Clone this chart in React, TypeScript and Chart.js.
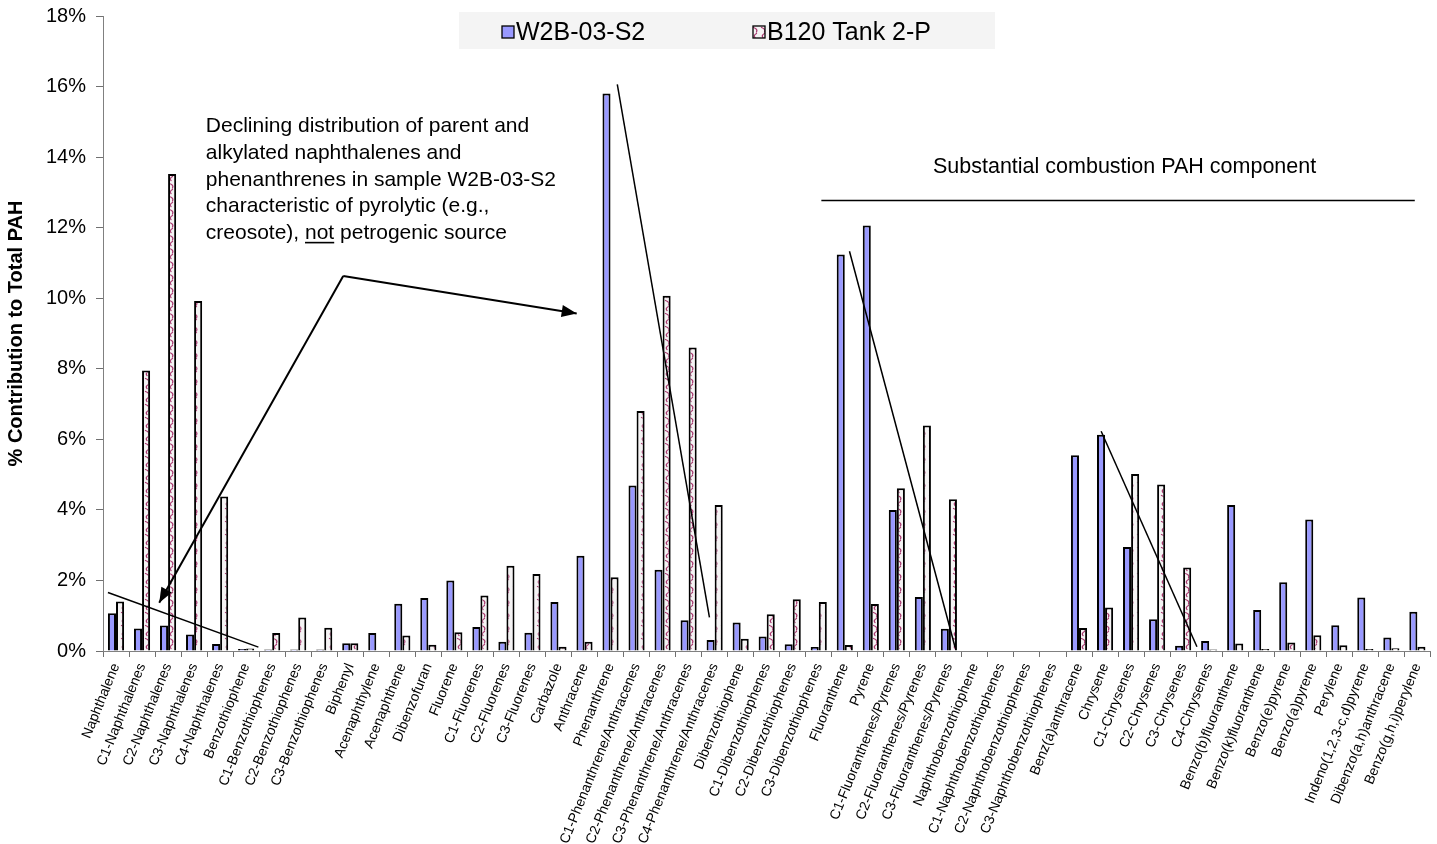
import React, { useEffect, useRef } from "react";
import { Chart, registerables } from "chart.js";

Chart.register(...registerables);

const categories: string[] = [
  "Naphthalene", "C1-Naphthalenes", "C2-Naphthalenes", "C3-Naphthalenes", "C4-Naphthalenes",
  "Benzothiophene", "C1-Benzothiophenes", "C2-Benzothiophenes", "C3-Benzothiophenes",
  "Biphenyl", "Acenaphthylene", "Acenaphthene", "Dibenzofuran", "Fluorene",
  "C1-Fluorenes", "C2-Fluorenes", "C3-Fluorenes", "Carbazole", "Anthracene", "Phenanthrene",
  "C1-Phenanthrene/Anthracenes", "C2-Phenanthrene/Anthracenes", "C3-Phenanthrene/Anthracenes",
  "C4-Phenanthrene/Anthracenes", "Dibenzothiophene", "C1-Dibenzothiophenes",
  "C2-Dibenzothiophenes", "C3-Dibenzothiophenes", "Fluoranthene", "Pyrene",
  "C1-Fluoranthenes/Pyrenes", "C2-Fluoranthenes/Pyrenes", "C3-Fluoranthenes/Pyrenes",
  "Naphthobenzothiophene", "C1-Naphthobenzothiophenes", "C2-Naphthobenzothiophenes",
  "C3-Naphthobenzothiophenes", "Benz(a)anthracene", "Chrysene", "C1-Chrysenes",
  "C2-Chrysenes", "C3-Chrysenes", "C4-Chrysenes", "Benzo(b)fluoranthene",
  "Benzo(k)fluoranthene", "Benzo(e)pyrene", "Benzo(a)pyrene", "Perylene",
  "Indeno(1,2,3-c,d)pyrene", "Dibenzo(a,h)anthracene", "Benzo(g,h,i)perylene",
];

const seriesNames: string[] = ["W2B-03-S2", "B120 Tank 2-P"];

const w2bValues: number[] = [
  1.07, 0.64, 0.72, 0.47, 0.2,
  0.06, 0.04, 0.04, 0.04,
  0.22, 0.51, 1.34, 1.5, 2.0,
  0.68, 0.26, 0.52, 1.39, 2.7, 15.8,
  4.69, 2.3, 0.87,
  0.31, 0.81, 0.41,
  0.19, 0.11, 11.24, 12.06,
  4.0, 1.53, 0.63,
  0, 0, 0,
  0, 5.55, 6.13, 2.95,
  0.9, 0.15, 0.28, 4.14,
  1.16, 1.95, 3.73, 0.73,
  1.52, 0.38, 1.11,
];

const b120Values: number[] = [
  1.4, 7.95, 13.52, 9.92, 4.38,
  0.07, 0.51, 0.95, 0.66,
  0.22, 0, 0.44, 0.18, 0.53,
  1.57, 2.42, 2.18, 0.12, 0.26, 2.09,
  6.8, 10.07, 8.6,
  4.14, 0.35, 1.04,
  1.47, 1.39, 0.17, 1.33,
  4.61, 6.39, 4.3,
  0, 0, 0,
  0, 0.65, 1.23, 5.02,
  4.72, 2.37, 0.04, 0.21,
  0.06, 0.24, 0.45, 0.16,
  0.06, 0.08, 0.12,
];

const yMin = 0;
const yMax = 18;
const yStep = 2;

const FONT = '"Liberation Sans", Arial, sans-serif';
const BLUE = "#9999ff";

function makePattern(): CanvasPattern | string {
  const c = document.createElement("canvas");
  c.width = 8;
  c.height = 13;
  const g = c.getContext("2d");
  if (!g) return "#f4f4f4";
  g.fillStyle = "#f5f3f4";
  g.fillRect(0, 0, 8, 13);
  g.strokeStyle = "#a83a70";
  g.lineWidth = 1.3;
  g.lineCap = "round";
  g.beginPath();
  g.moveTo(1.5, 1.5);
  g.quadraticCurveTo(6, 3, 4.5, 6);
  g.moveTo(4.5, 7.5);
  g.quadraticCurveTo(1, 9.5, 3, 11.5);
  g.stroke();
  const p = g.createPattern(c, "repeat");
  return p || "#f4f4f4";
}

function drawArrow(ctx: CanvasRenderingContext2D, x1: number, y1: number, x2: number, y2: number) {
  ctx.beginPath();
  ctx.moveTo(x1, y1);
  ctx.lineTo(x2, y2);
  ctx.stroke();
  const ang = Math.atan2(y2 - y1, x2 - x1);
  const len = 15;
  const hw = 6;
  const bx = x2 - len * Math.cos(ang);
  const by = y2 - len * Math.sin(ang);
  ctx.beginPath();
  ctx.moveTo(x2, y2);
  ctx.lineTo(bx + hw * Math.sin(ang), by - hw * Math.cos(ang));
  ctx.lineTo(bx - hw * Math.sin(ang), by + hw * Math.cos(ang));
  ctx.closePath();
  ctx.fill();
}

const annotationPlugin = {
  id: "pahAnnotations",
  afterDatasetsDraw(chart: any) {
    const ctx: CanvasRenderingContext2D = chart.ctx;
    const xs = chart.scales.x;
    const ys = chart.scales.y;
    const X = (i: number) => xs.getPixelForValue(i);
    const Y = (v: number) => ys.getPixelForValue(v);
    ctx.save();
    ctx.strokeStyle = "#000";
    ctx.fillStyle = "#000";

    ctx.lineWidth = 1.5;
    const lines: number[][] = [
      [-0.31, 1.66, 5.47, 0.11],
      [19.26, 16.06, 22.8, 0.95],
      [28.18, 11.33, 32.24, 0.1],
      [37.85, 6.23, 41.53, 0.12],
      [27.1, 12.77, 49.9, 12.77],
    ];
    lines.forEach(([a, b, c, d]) => {
      ctx.beginPath();
      ctx.moveTo(X(a), Y(b));
      ctx.lineTo(X(c), Y(d));
      ctx.stroke();
    });

    ctx.lineWidth = 2;
    const vx = X(8.73), vy = Y(10.63);
    drawArrow(ctx, vx, vy, X(1.66), Y(1.37));
    drawArrow(ctx, vx, vy, X(17.7), Y(9.57));

    ctx.font = `21px ${FONT}`;
    ctx.textAlign = "left";
    ctx.textBaseline = "alphabetic";
    const tx = X(3.45);
    const ty = Y(14.7);
    const lh = 26.6;
    const txt = [
      "Declining distribution of parent and",
      "alkylated naphthalenes and",
      "phenanthrenes in sample W2B-03-S2",
      "characteristic of pyrolytic (e.g.,",
    ];
    txt.forEach((t, i) => ctx.fillText(t, tx, ty + i * lh));
    const l5y = ty + 4 * lh;
    const p1 = "creosote), ";
    const p2 = "not";
    const p3 = " petrogenic source";
    ctx.fillText(p1, tx, l5y);
    const w1 = ctx.measureText(p1).width;
    ctx.fillText(p2, tx + w1, l5y);
    const w2 = ctx.measureText(p2).width;
    ctx.fillRect(tx + w1, l5y + 3, w2, 1.6);
    ctx.fillText(p3, tx + w1 + w2, l5y);

    ctx.font = `21.5px ${FONT}`;
    ctx.textAlign = "center";
    ctx.textBaseline = "middle";
    ctx.fillText("Substantial combustion PAH component", X(38.75), Y(13.71));
    ctx.restore();
  },
  afterDraw(chart: any) {
    const ctx: CanvasRenderingContext2D = chart.ctx;
    const ds = chart.data.datasets;
    ctx.save();
    ctx.fillStyle = "#f4f4f4";
    ctx.fillRect(459, 12, 536, 37);
    const cy = 32;
    const items = [
      { x: 502, fill: ds[0].backgroundColor, label: ds[0].label },
      { x: 753, fill: ds[1].backgroundColor, label: ds[1].label },
    ];
    items.forEach((it) => {
      ctx.fillStyle = it.fill;
      ctx.fillRect(it.x, cy - 6, 12, 12);
      ctx.strokeStyle = "#000";
      ctx.lineWidth = 1.3;
      ctx.strokeRect(it.x, cy - 6, 12, 12);
      ctx.fillStyle = "#000";
      ctx.font = `25px ${FONT}`;
      ctx.textAlign = "left";
      ctx.textBaseline = "middle";
      ctx.fillText(it.label, it.x + 14, cy + 1);
    });
    ctx.restore();
  },
};

export default function App() {
  const ref = useRef<HTMLCanvasElement | null>(null);

  useEffect(() => {
    document.body.style.margin = "0";
    if (!ref.current) return;
    const pattern = makePattern();
    const chart = new Chart(ref.current, {
      type: "bar",
      data: {
        labels: categories,
        datasets: [
          {
            label: seriesNames[0],
            data: w2bValues,
            backgroundColor: BLUE,
            borderColor: "#000",
            borderWidth: 2,
            categoryPercentage: 0.62,
            barPercentage: 1.0,
          },
          {
            label: seriesNames[1],
            data: b120Values,
            backgroundColor: pattern as any,
            borderColor: "#000",
            borderWidth: 2,
            categoryPercentage: 0.62,
            barPercentage: 1.0,
          },
        ],
      },
      options: {
        responsive: false,
        animation: false,
        layout: { padding: { left: 0, top: 16, right: 4, bottom: 0 } },
        plugins: {
          legend: { display: false },
          tooltip: { enabled: false },
        },
        scales: {
          x: {
            type: "category",
            offset: true,
            grid: {
              offset: true,
              drawOnChartArea: false,
              tickLength: 6,
              color: "#707070",
            },
            border: { display: true, color: "#808080", width: 1 },
            ticks: {
              autoSkip: false,
              minRotation: 68,
              maxRotation: 68,
              padding: 4,
              color: "#000",
              font: { family: FONT, size: 14 },
            },
            afterFit: (s: any) => {
              s.height = 193;
            },
          },
          y: {
            min: yMin,
            max: yMax,
            grid: {
              drawOnChartArea: false,
              tickLength: 7,
              color: "#707070",
            },
            border: { display: true, color: "#808080", width: 1 },
            ticks: {
              stepSize: yStep,
              padding: 10,
              color: "#000",
              font: { family: FONT, size: 20 },
              callback: (v: any) => `${v}%`,
            },
            title: {
              display: true,
              text: "% Contribution to Total PAH",
              color: "#000",
              font: { family: FONT, size: 20, weight: "bold" },
              padding: { top: 4, bottom: 0 },
            },
            afterFit: (s: any) => {
              s.width = 103;
              s.paddingTop = 0;
              s.paddingBottom = 0;
            },
          },
        },
      },
      plugins: [annotationPlugin],
    });
    return () => chart.destroy();
  }, []);

  return (
    <div style={{ width: 1437, height: 844, overflow: "hidden", background: "#fff" }}>
      <canvas ref={ref} width={1437} height={844} style={{ display: "block" }} />
    </div>
  );
}
